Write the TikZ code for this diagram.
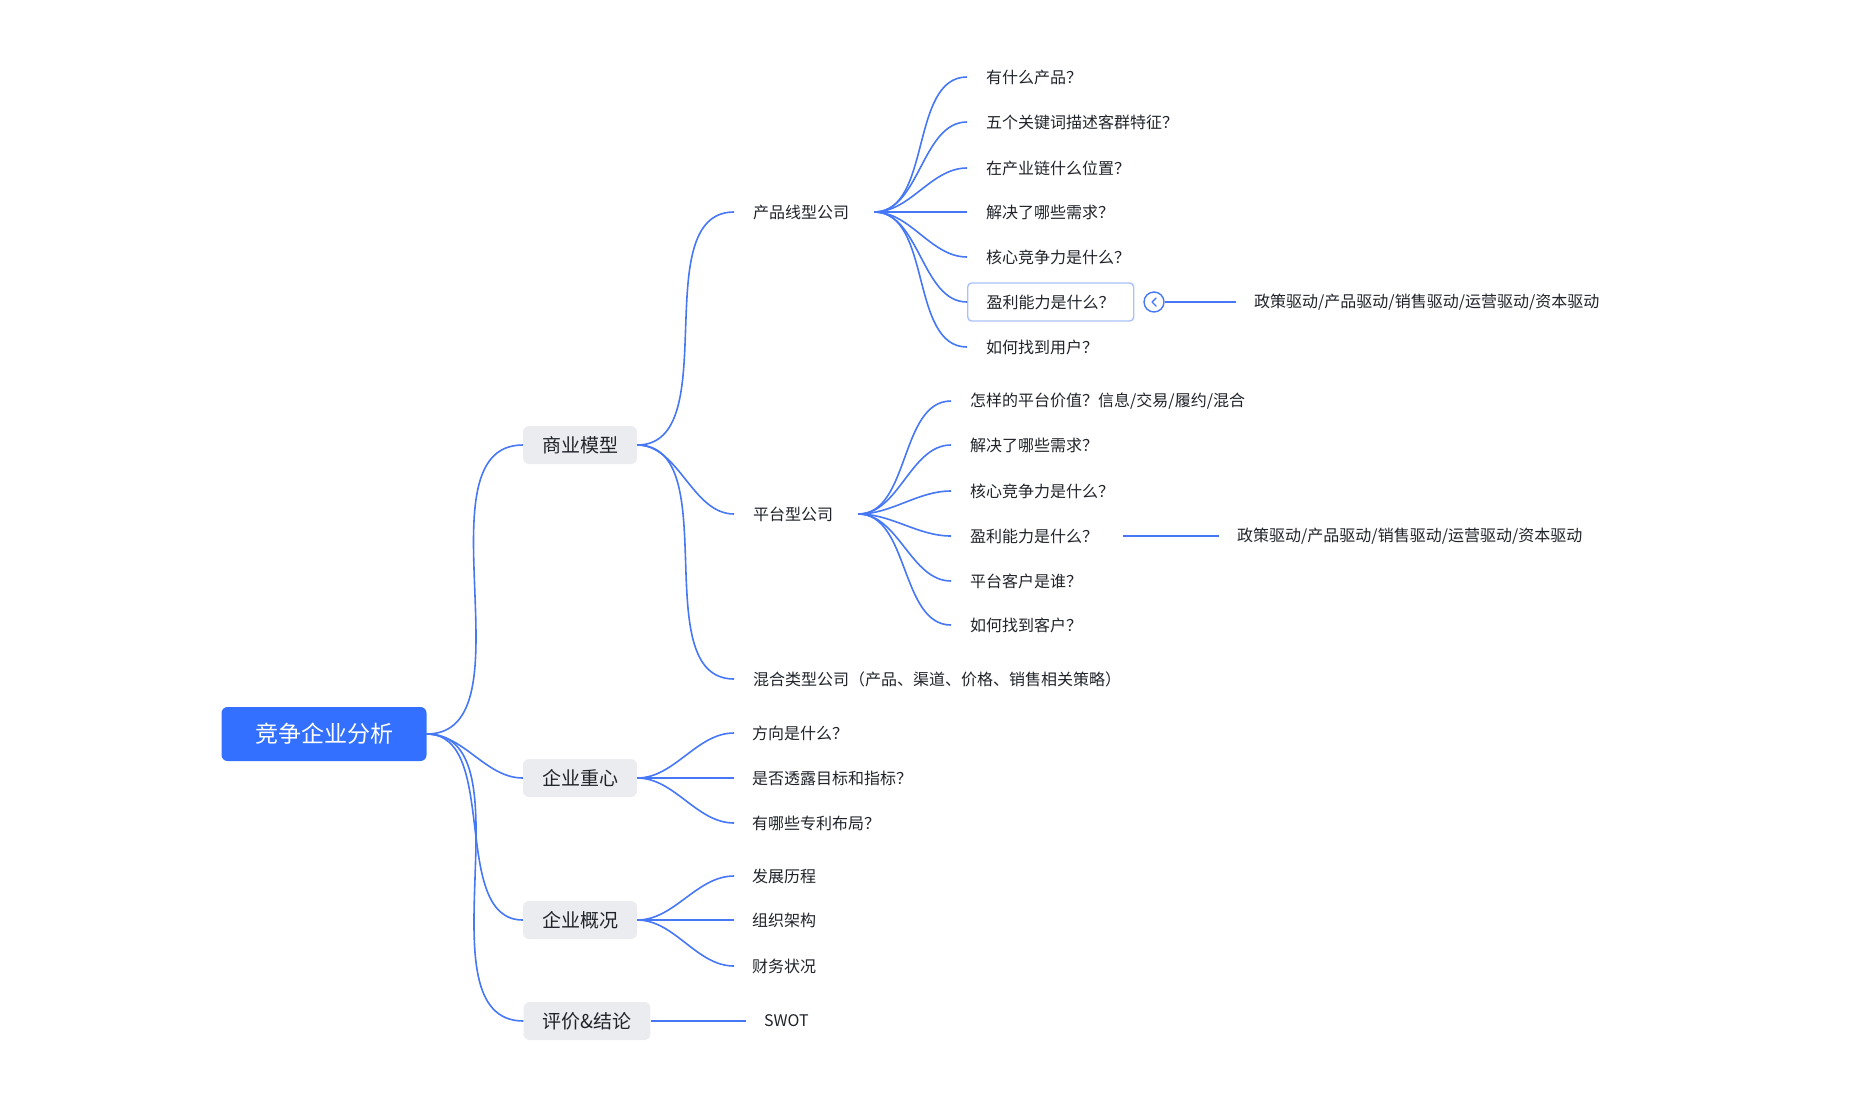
\documentclass[tikz,border=0pt]{standalone}
\usepackage{fontspec}
\setmainfont{Noto Sans CJK SC}
\definecolor{lineblue}{HTML}{4677F5}
\definecolor{rootblue}{HTML}{3370FF}
\definecolor{txt}{HTML}{1F2329}
\definecolor{grayfill}{HTML}{EBECEF}
\definecolor{selbd}{HTML}{A9C2FA}
\begin{document}
\begin{tikzpicture}[x=1pt,y=-1pt,
  rootnode/.style={fill=rootblue,rounded corners=6pt,text=white,font=\fontsize{23}{26}\selectfont,minimum width=205pt,minimum height=54pt,inner sep=0pt},
  lone/.style={fill=grayfill,rounded corners=6pt,text=txt,font=\fontsize{19}{22}\selectfont,minimum height=38pt,inner xsep=19pt,inner ysep=0pt},
  leaf/.style={anchor=west,text=txt,font=\fontsize{16}{19}\selectfont,inner xsep=19pt,inner ysep=2pt},
  br/.style={draw=lineblue,line width=1.6pt},
  cv/.style={br,out=0,in=180,looseness=0.9}]
\useasboundingbox (0,0) rectangle (1873,1117);
\node[rootnode] (root) at (324,734) {竞争企业分析};
\node[lone] (a) at (580,445) {商业模型};
\node[lone] (b) at (580,778) {企业重心};
\node[lone] (c) at (580,920) {企业概况};
\node[lone] (d) at (587,1021) {评价\&结论};
\foreach \n in {a,b,c,d} \draw[cv] (root.east) to (\n.west);
% business model
\node[leaf] (a1) at (734,212) {产品线型公司};
\node[leaf] (a2) at (734,514) {平台型公司};
\node[leaf] (a3) at (734,679) {混合类型公司（产品、渠道、价格、销售相关策略）};
\foreach \n in {a1,a2,a3} \draw[cv] (a.east) to (\n.west);
% product line
\node[leaf] (p1) at (967,77) {有什么产品？};
\node[leaf] (p2) at (967,122) {五个关键词描述客群特征？};
\node[leaf] (p3) at (967,168) {在产业链什么位置？};
\node[leaf] (p4) at (967,212) {解决了哪些需求？};
\node[leaf] (p5) at (967,257) {核心竞争力是什么？};
\node[leaf,draw=selbd,line width=1.4pt,rounded corners=4pt,minimum height=38pt,fill=white] (p6) at (967,302) {盈利能力是什么？};
\node[leaf] (p7) at (967,347) {如何找到用户？};
\foreach \n in {p1,p2,p3,p4,p5,p6,p7} \draw[cv] ([xshift=6pt]a1.east) to (\n.west);
\node[circle,draw=lineblue,line width=1.4pt,fill=white,minimum size=20pt,inner sep=0pt] (tog) at (1154,302) {};
\draw[lineblue,line width=1.4pt,line cap=round,line join=round] ([xshift=2pt,yshift=-4pt]tog.center) -- ([xshift=-2pt]tog.center) -- ([xshift=2pt,yshift=4pt]tog.center);
\node[leaf,inner xsep=18pt] (p6x) at (1236,302) {政策驱动/产品驱动/销售驱动/运营驱动/资本驱动};
\draw[br] (tog.east) -- (p6x.west);
% platform
\node[leaf] (q1) at (951,401) {怎样的平台价值？信息/交易/履约/混合};
\node[leaf] (q2) at (951,445) {解决了哪些需求？};
\node[leaf] (q3) at (951,491) {核心竞争力是什么？};
\node[leaf] (q4) at (951,536) {盈利能力是什么？};
\node[leaf] (q5) at (951,581) {平台客户是谁？};
\node[leaf] (q6) at (951,625) {如何找到客户？};
\foreach \n in {q1,q2,q3,q4,q5,q6} \draw[cv] ([xshift=6pt]a2.east) to (\n.west);
\node[leaf,inner xsep=18pt] (q4x) at (1219,536) {政策驱动/产品驱动/销售驱动/运营驱动/资本驱动};
\draw[br] ([xshift=6pt]q4.east) -- (q4x.west);
% focus
\node[leaf,inner xsep=18pt] (b1) at (734,733) {方向是什么？};
\node[leaf,inner xsep=18pt] (b2) at (734,778) {是否透露目标和指标？};
\node[leaf,inner xsep=18pt] (b3) at (734,823) {有哪些专利布局？};
\foreach \n in {b1,b2,b3} \draw[cv] (b.east) to (\n.west);
% overview
\node[leaf,inner xsep=18pt] (c1) at (734,876) {发展历程};
\node[leaf,inner xsep=18pt] (c2) at (734,920) {组织架构};
\node[leaf,inner xsep=18pt] (c3) at (734,966) {财务状况};
\foreach \n in {c1,c2,c3} \draw[cv] (c.east) to (\n.west);
% swot
\node[leaf,inner xsep=18pt] (d1) at (746,1021) {SWOT};
\draw[br] (d.east) -- (d1.west);
\end{tikzpicture}
\end{document}
